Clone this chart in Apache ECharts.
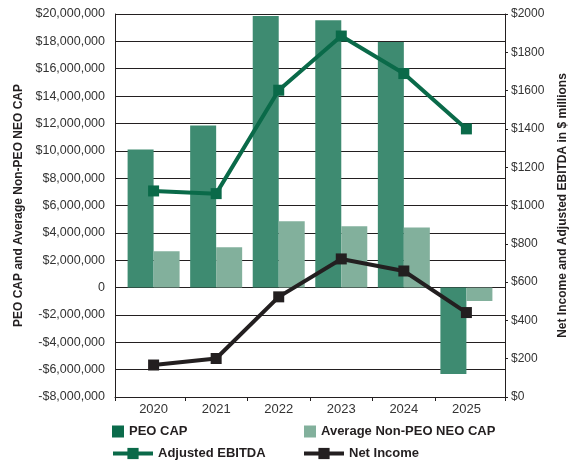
<!DOCTYPE html>
<html><head><meta charset="utf-8">
<script src="https://cdn.jsdelivr.net/npm/echarts@6/dist/echarts.min.js"></script>
<style>html,body{margin:0;padding:0;background:#fff}#c{width:578px;height:463px}</style>
</head><body><div id="c"></div>
<script>
const years = ['2020','2021','2022','2023','2024','2025'];
const peoCap = [10100000, 11850000, 19850000, 19540000, 17950000, -6320000];
const avgNonPeoCap = [2650000, 2950000, 4850000, 4480000, 4400000, -980000];
const adjEbitda = [1076, 1062, 1602, 1885, 1689, 1400];
const netIncome = [167, 201, 523, 721, 658, 441];

const FONT = '"Liberation Sans", Arial, sans-serif';
const DARK = '#231f20';
const pad = 0.617;
const pts = arr => arr.map((v, i) => [i, v]);
const money = v => v === 0 ? '0' : (v < 0 ? '-' : '') + '$' + Math.abs(v).toLocaleString('en-US');

const chart = echarts.init(document.getElementById('c'), null, {renderer: 'canvas'});
const legendText = {fontFamily: FONT, fontSize: 13, fontWeight: 'bold', color: DARK};
chart.setOption({
  animation: false,
  textStyle: {fontFamily: FONT},
  grid: {left: 115, right: 73, top: 14, bottom: 66, containLabel: false},
  xAxis: {
    type: 'value', min: -pad, max: 5 + pad,
    splitLine: {show: false},
    axisLine: {show: true, onZero: false, lineStyle: {color: DARK, width: 1}},
    axisTick: {show: true, length: 4, lineStyle: {color: DARK},
      customValues: [-pad, 0.5, 1.5, 2.5, 3.5, 4.5, 5 + pad]},
    axisLabel: {customValues: [0, 1, 2, 3, 4, 5], formatter: v => years[Math.round(v)],
      fontSize: 13, color: '#333', margin: 6, fontFamily: FONT}
  },
  yAxis: [{
    type: 'value', min: -8000000, max: 20000000, interval: 2000000,
    name: 'PEO CAP and Average Non-PEO NEO CAP', nameLocation: 'middle', nameRotate: 90, nameGap: 86,
    nameTextStyle: {fontFamily: FONT, fontSize: 12, fontWeight: 'bold', color: DARK},
    axisLine: {show: true, onZero: false, lineStyle: {color: DARK}},
    axisTick: {show: false},
    splitLine: {show: true, lineStyle: {color: DARK, width: 1}},
    axisLabel: {formatter: money, fontSize: 12.5, color: '#333', margin: 10, fontFamily: FONT}
  }, {
    type: 'value', min: 0, max: 2000, interval: 200, position: 'right',
    name: 'Net Income and Adjusted EBITDA in $ millions', nameLocation: 'middle', nameRotate: 90, nameGap: 52,
    nameTextStyle: {fontFamily: FONT, fontSize: 12, fontWeight: 'bold', color: DARK},
    axisLine: {show: true, onZero: false, lineStyle: {color: DARK}},
    axisTick: {show: true, length: 3, lineStyle: {color: DARK}},
    splitLine: {show: false},
    axisLabel: {formatter: v => '$' + v, fontSize: 12, color: '#333', margin: 6, fontFamily: FONT}
  }],
  legend: [
    {data: [{name: 'PEO CAP', itemStyle: {color: '#0b6b4b'}}], left: 112, top: 425, icon: 'rect', itemWidth: 12, itemHeight: 12, textStyle: legendText, padding: 0},
    {data: [{name: 'Average Non-PEO NEO CAP', itemStyle: {color: '#82b09c'}}], left: 304, top: 425, icon: 'rect', itemWidth: 12, itemHeight: 12, textStyle: legendText, padding: 0},
    {data: ['Adjusted EBITDA'], left: 111, top: 447, itemWidth: 40, itemHeight: 14, lineStyle: {width: 4}, textStyle: legendText, padding: 0},
    {data: ['Net Income'], left: 302, top: 447, itemWidth: 40, itemHeight: 14, lineStyle: {width: 4}, textStyle: legendText, padding: 0}
  ],
  series: [
    {name: 'PEO CAP', type: 'bar', data: pts(peoCap), barWidth: 26, barGap: '0%', itemStyle: {color: '#3e8b71'}, z: 2},
    {name: 'Average Non-PEO NEO CAP', type: 'bar', data: pts(avgNonPeoCap), barWidth: 26, barGap: '0%', itemStyle: {color: '#82b09c'}, z: 2},
    {name: 'Adjusted EBITDA', type: 'line', yAxisIndex: 1, data: pts(adjEbitda), symbol: 'rect', symbolSize: 11,
      lineStyle: {color: '#0a6a49', width: 4}, itemStyle: {color: '#0a6a49'}, z: 5},
    {name: 'Net Income', type: 'line', yAxisIndex: 1, data: pts(netIncome), symbol: 'rect', symbolSize: 11,
      lineStyle: {color: DARK, width: 4}, itemStyle: {color: DARK}, z: 6}
  ]
});
</script></body></html>
